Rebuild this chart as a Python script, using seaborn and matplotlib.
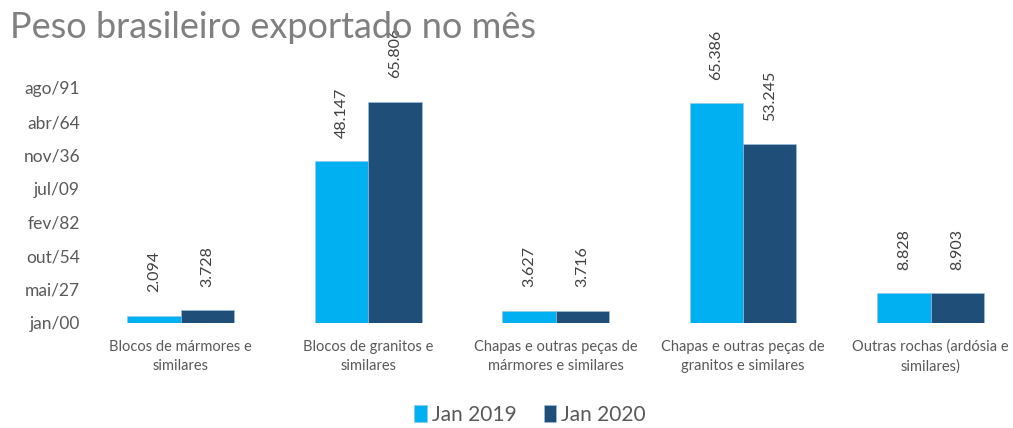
import numpy as np
import pandas as pd
import matplotlib
matplotlib.use("Agg")
import matplotlib.pyplot as plt
import seaborn as sns

# data (tonnes)
categorias = [
    "Blocos de mármores e\nsimilares",
    "Blocos de granitos e\nsimilares",
    "Chapas e outras peças de\nmármores e similares",
    "Chapas e outras peças de\ngranitos e similares",
    "Outras rochas (ardósia e\nsimilares)",
]
jan_2019 = [2094, 48147, 3627, 65386, 8828]
jan_2020 = [3728, 65806, 3716, 53245, 8903]
series = ["Jan 2019", "Jan 2020"]

# y axis values shown with an Excel date format in the original
ytick_values = [0, 10000, 20000, 30000, 40000, 50000, 60000, 70000]
ytick_labels = ["jan/00", "mai/27", "out/54", "fev/82", "jul/09", "nov/36", "abr/64", "ago/91"]

df = pd.DataFrame({
    "categoria": categorias * 2,
    "serie": [series[0]] * len(categorias) + [series[1]] * len(categorias),
    "valor": jan_2019 + jan_2020,
})

sns.set_theme(style="white")
plt.rcParams["font.family"] = ["Lato", "DejaVu Sans"]

palette = {"Jan 2019": "#00B0F0", "Jan 2020": "#1F4E79"}

fig = plt.figure(figsize=(10.13, 4.28), dpi=100)
ax = fig.add_axes([87 / 1013, 1 - 323 / 428, (1013 - 87) / 1013, (323 - 88) / 428])

sns.barplot(data=df, x="categoria", y="valor", hue="serie", palette=palette,
            width=0.57, saturation=1, ax=ax, legend=True,
            edgecolor="#9DC3E6", linewidth=0.4)

ax.set_xlim(-0.5, 4.44)
ax.set_ylim(0, 70000)
ax.set_yticks(ytick_values)
ax.set_yticklabels(ytick_labels)
ax.set_xlabel("")
ax.set_ylabel("")
ax.tick_params(axis="y", colors="#595959", labelsize=12.5, length=0, pad=5)
ax.tick_params(axis="x", colors="#595959", labelsize=10.5, length=0, pad=12)
for t in ax.get_xticklabels():
    t.set_linespacing(1.5)
for s in ax.spines.values():
    s.set_visible(False)

for cont in ax.containers:
    labels = [f"{v:,.0f}".replace(",", ".") for v in cont.datavalues]
    ax.bar_label(cont, labels=labels, rotation=90, padding=17,
                 fontsize=11.5, color="#404040", clip_on=False)

handles, lbls = ax.get_legend_handles_labels()
ax.get_legend().remove()
leg = fig.legend(handles, lbls, loc="center", bbox_to_anchor=(530 / 1013, 1 - 415 / 428),
                 ncol=2, frameon=False, fontsize=15, handlelength=0.6, handleheight=0.9,
                 handletextpad=0.25, columnspacing=1.3)
for t in leg.get_texts():
    t.set_color("#595959")

fig.text(10 / 1013, 1 - 27 / 428, "Peso brasileiro exportado no mês", fontsize=26,
         color="#808080", va="center", ha="left")

fig.savefig("out.png", dpi=100)
